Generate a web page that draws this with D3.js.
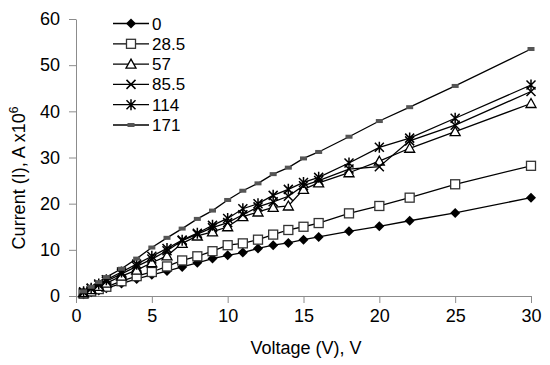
<!DOCTYPE html>
<html><head><meta charset="utf-8">
<script src="https://cdn.jsdelivr.net/npm/d3@7"></script>
<style>body{margin:0;background:#fff}svg{display:block}text{font-family:"Liberation Sans",Arial,sans-serif;fill:#000}</style>
</head><body><svg id="c" width="550" height="365"></svg>
<script>
const voltage = [0.5,1,1.5,2,3,4,5,6,7,8,9,10,11,12,13,14,15,16,18,20,22,25,30];
const seriesNames = ["0","28.5","57","85.5","114","171"];
const s0    = [0.4,0.8,1.2,1.7,2.7,3.7,4.6,5.4,6.3,7.2,8.1,8.8,9.4,10.3,11.0,11.5,12.2,12.8,14.0,15.1,16.3,18.0,21.3];
const s28_5 = [0.5,1.0,1.5,2.0,3.2,4.3,5.2,6.4,7.7,8.6,9.7,11.0,11.4,12.2,13.3,14.3,15.0,15.8,17.9,19.5,21.3,24.2,28.2];
const s57   = [0.7,1.4,2.1,2.8,4.3,5.6,7.2,8.7,11.4,13.0,13.9,15.0,17.2,18.2,19.2,19.5,23.1,24.5,26.7,29.2,32.0,35.6,41.7];
const s85_5 = [0.8,1.6,2.4,3.2,4.8,6.4,8.0,9.8,12.0,13.4,14.8,15.9,17.6,19.3,20.4,21.6,23.9,25.0,27.5,28.0,33.6,37.0,44.3];
const s114  = [0.9,1.7,2.6,3.5,5.2,6.9,8.6,10.3,12.1,13.6,15.3,16.8,18.9,20.0,21.8,23.1,24.6,25.7,28.8,32.2,34.2,38.5,45.7];
const s171  = [1.0,2.0,3.0,4.1,5.9,8.1,10.5,12.6,14.6,16.7,18.5,20.8,22.8,24.4,26.4,27.8,29.8,31.2,34.5,37.9,40.9,45.5,53.5];
const xTicks = [0,5,10,15,20,25,30];
const yTicks = [0,10,20,30,40,50,60];

const allSeries = [s0,s28_5,s57,s85_5,s114,s171];
const markers = ["diamond","square","triangle","x","star","dash"];

const svg = d3.select("#c");
const x = d3.scaleLinear().domain([0,30]).range([76,531]);
const y = d3.scaleLinear().domain([0,60]).range([296,19]);
const axisColor = "#8c8c8c";

const gx = svg.append("g").attr("transform","translate(0,296)")
  .call(d3.axisBottom(x).tickValues(xTicks).tickSize(7).tickPadding(6).tickSizeOuter(0));
const gy = svg.append("g").attr("transform","translate(76,0)")
  .call(d3.axisLeft(y).tickValues(yTicks).tickSize(7).tickPadding(9).tickSizeOuter(0));
[gx,gy].forEach(g=>{
  g.selectAll("path,line").attr("stroke",axisColor).attr("stroke-width",1);
  g.selectAll("text").style("font-size","18px").attr("fill","#000");
});

svg.append("text").attr("x",306).attr("y",354).attr("text-anchor","middle")
  .style("font-size","18px").text("Voltage (V), V");
const yl = svg.append("text").attr("transform","translate(25,178) rotate(-90)")
  .attr("text-anchor","middle").style("font-size","18px");
yl.append("tspan").text("Current (I), A x10");
yl.append("tspan").attr("dy","-7").style("font-size","12px").text("6");

function drawMarker(g, type, cx, cy){
  if(type==="diamond"){
    g.append("path").attr("d",`M${cx},${cy-5}L${cx+5},${cy}L${cx},${cy+5}L${cx-5},${cy}Z`).attr("fill","#000");
  } else if(type==="square"){
    g.append("rect").attr("x",cx-4.5).attr("y",cy-4.5).attr("width",9).attr("height",9)
      .attr("fill","#fff").attr("stroke","#333").attr("stroke-width",1.3);
  } else if(type==="triangle"){
    g.append("path").attr("d",`M${cx},${cy-5}L${cx+5},${cy+4}L${cx-5},${cy+4}Z`)
      .attr("fill","#fff").attr("stroke","#000").attr("stroke-width",1.3);
  } else if(type==="x"){
    g.append("path").attr("d",`M${cx-4.5},${cy-4.5}L${cx+4.5},${cy+4.5}M${cx-4.5},${cy+4.5}L${cx+4.5},${cy-4.5}`)
      .attr("stroke","#000").attr("stroke-width",1.5);
  } else if(type==="star"){
    g.append("path").attr("d",`M${cx-4.5},${cy-4.5}L${cx+4.5},${cy+4.5}M${cx-4.5},${cy+4.5}L${cx+4.5},${cy-4.5}M${cx},${cy-5.5}L${cx},${cy+5.5}`)
      .attr("stroke","#000").attr("stroke-width",1.5);
  } else if(type==="dash"){
    g.append("rect").attr("x",cx-3.5).attr("y",cy-2).attr("width",7).attr("height",4).attr("fill","#555");
  }
}

const line = d3.line().x(d=>x(d[0])).y(d=>y(d[1]));
allSeries.forEach((s,i)=>{
  const pts = voltage.map((v,j)=>[v,s[j]]);
  const g = svg.append("g");
  g.append("path").attr("d",line(pts)).attr("fill","none").attr("stroke","#000").attr("stroke-width",1.3);
  pts.forEach(p=>drawMarker(g, markers[i], x(p[0]), y(p[1])));
});

// legend
const leg = svg.append("g");
seriesNames.forEach((n,i)=>{
  const cy = 23.5 + i*20.3;
  leg.append("line").attr("x1",113).attr("x2",149).attr("y1",cy).attr("y2",cy).attr("stroke","#000").attr("stroke-width",1.3);
  drawMarker(leg, markers[i], 131, cy);
  leg.append("text").attr("x",152).attr("y",cy+6).style("font-size","17px").text(n);
});
</script></body></html>
